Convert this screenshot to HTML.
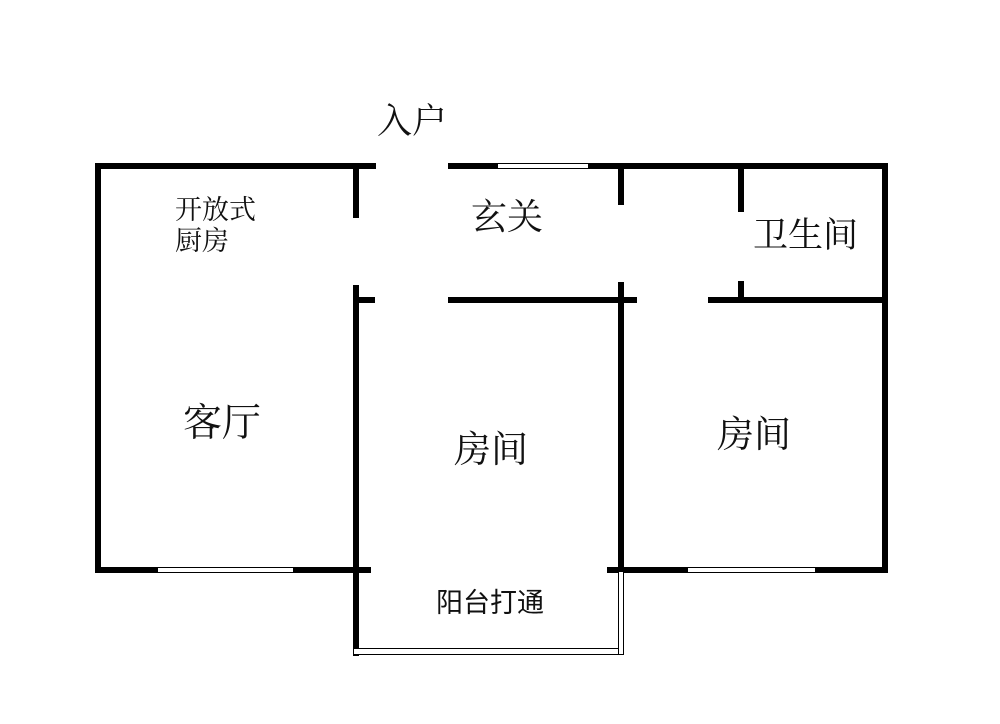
<!DOCTYPE html>
<html><head><meta charset="utf-8"><style>
body{margin:0;width:1000px;height:724px;background:#fff;position:relative;overflow:hidden;font-family:"Liberation Serif","Noto Serif CJK SC","Noto Sans CJK SC",serif;color:#111}
.w{position:absolute;background:#000}
.win{position:absolute;background:#fff;border-top:1px solid #000;border-bottom:1px solid #000;box-sizing:border-box}
.t{position:absolute;white-space:nowrap;line-height:1}
</style></head><body>
<div class="w" style="left:95px;top:163px;width:281px;height:6px"></div>
<div class="w" style="left:448px;top:163px;width:440px;height:6px"></div>
<div class="win" style="left:498px;top:163px;width:90px;height:6px"></div>
<div class="w" style="left:95px;top:163px;width:6px;height:410px"></div>
<div class="w" style="left:882px;top:163px;width:6px;height:410px"></div>
<div class="w" style="left:95px;top:567px;width:276px;height:6px"></div>
<div class="win" style="left:158px;top:567px;width:135px;height:6px"></div>
<div class="w" style="left:607px;top:567px;width:281px;height:6px"></div>
<div class="win" style="left:688px;top:567px;width:127px;height:6px"></div>
<div class="w" style="left:353px;top:163px;width:6px;height:55px"></div>
<div class="w" style="left:353px;top:285px;width:6px;height:371px"></div>
<div class="w" style="left:353px;top:297px;width:22px;height:6px"></div>
<div class="w" style="left:448px;top:297px;width:189px;height:6px"></div>
<div class="w" style="left:618px;top:163px;width:6px;height:42px"></div>
<div class="w" style="left:618px;top:282px;width:6px;height:291px"></div>
<div class="w" style="left:738px;top:163px;width:6px;height:49px"></div>
<div class="w" style="left:738px;top:281px;width:6px;height:20px"></div>
<div class="w" style="left:708px;top:297px;width:180px;height:6px"></div>
<div style="position:absolute;left:353px;top:648px;width:271px;height:7px;border:1.5px solid #000;box-sizing:border-box;background:#fff"></div>
<div style="position:absolute;left:618px;top:572px;width:6px;height:83px;border:1.5px solid #000;border-top:none;box-sizing:border-box;background:#fff"></div>
<div class="t" style="left:377px;top:104px;font-size:35px">入户</div>
<div class="t" style="left:175px;top:195px;font-size:27px;line-height:31px">开放式<br>厨房</div>
<div class="t" style="left:471px;top:199px;font-size:36px">玄关</div>
<div class="t" style="left:753px;top:218px;font-size:35px">卫生间</div>
<div class="t" style="left:183px;top:404px;font-size:39px">客厅</div>
<div class="t" style="left:454px;top:432px;font-size:37px">房间</div>
<div class="t" style="left:717px;top:417px;font-size:37px">房间</div>
<div class="t" style="left:436px;top:590px;font-size:27px;font-family:'Liberation Sans','Noto Sans CJK SC',sans-serif">阳台打通</div>
</body></html>
